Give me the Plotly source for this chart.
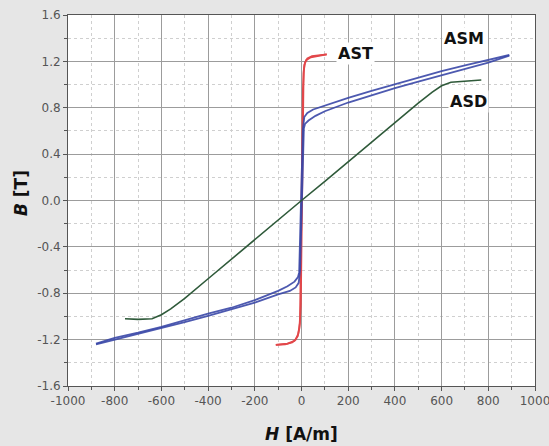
import plotly.graph_objects as go

# ---- data ----
# AST (red) loop
ast_asc_H = [-110, -70, -40, -25, -14, -7, -3, 0, 3, 6, 9, 12, 20, 40, 75, 108]
ast_asc_B = [-1.245, -1.24, -1.225, -1.20, -1.15, -1.06, -0.90, -0.3, 0.4, 0.9, 1.10, 1.17, 1.21, 1.235, 1.25, 1.26]
ast_desc_H = [108, 75, 45, 25, 15, 10, 6, 3, 0, -3, -6, -9, -16, -30, -60, -110]
ast_desc_B = [1.26, 1.255, 1.245, 1.225, 1.19, 1.12, 0.95, 0.5, -0.2, -0.7, -1.0, -1.10, -1.17, -1.21, -1.235, -1.245]

# ASM (blue) loop
asm_desc_H = [890, 800, 700, 600, 500, 400, 300, 200, 100, 50, 25, 12, 6, 2, -2, -6, -10, -15,
              -30, -60, -100, -200, -300, -400, -500, -600, -700, -800, -880]
asm_desc_B = [1.255, 1.215, 1.165, 1.115, 1.06, 1.005, 0.945, 0.885, 0.815, 0.785, 0.755, 0.72, 0.62, 0.3,
              -0.2, -0.5, -0.62, -0.66, -0.70, -0.74, -0.78, -0.86, -0.925, -0.975, -1.035, -1.09, -1.14, -1.185, -1.235]
asm_asc_H = [-880, -800, -700, -600, -500, -400, -300, -200, -100, -50, -25, -12, -6, -2, 2, 6, 10, 15,
             30, 60, 100, 200, 300, 400, 500, 600, 700, 800, 890]
asm_asc_B = [-1.24, -1.2, -1.155, -1.105, -1.05, -0.995, -0.94, -0.88, -0.81, -0.78, -0.75, -0.71, -0.6, -0.3,
             0.2, 0.5, 0.62, 0.66, 0.69, 0.73, 0.77, 0.845, 0.91, 0.97, 1.025, 1.08, 1.135, 1.19, 1.25]

# ASD (green) curve
asd_H = [-756, -700, -640, -600, -560, -500, -400, -300, -200, -100, 0, 100, 200, 300, 400, 500, 560, 600, 640, 700, 770]
asd_B = [-1.02, -1.025, -1.02, -0.985, -0.935, -0.845, -0.675, -0.505, -0.335, -0.165, 0.0, 0.165, 0.335,
         0.50, 0.67, 0.84, 0.935, 0.99, 1.02, 1.03, 1.04]

labels = ["AST", "ASM", "ASD"]
label_H = [233, 696, 717]
label_B = [1.267, 1.395, 0.852]

x_ticks = [-1000, -800, -600, -400, -200, 0, 200, 400, 600, 800, 1000]
y_ticks = [-1.6, -1.2, -0.8, -0.4, 0.0, 0.4, 0.8, 1.2, 1.6]

RED = "#e2474a"
BLUE = "#3a48a8"
GREEN = "#2f5a3a"

fig = go.Figure()
for h, b in [(ast_asc_H, ast_asc_B), (ast_desc_H, ast_desc_B)]:
    fig.add_trace(go.Scatter(x=h, y=b, mode="lines", line=dict(color=RED, width=1.8), showlegend=False))
for h, b in [(asm_desc_H, asm_desc_B), (asm_asc_H, asm_asc_B)]:
    fig.add_trace(go.Scatter(x=h, y=b, mode="lines", line=dict(color=BLUE, width=1.8),
                             opacity=0.9, showlegend=False))
fig.add_trace(go.Scatter(x=asd_H, y=asd_B, mode="lines", line=dict(color=GREEN, width=1.6), showlegend=False))

for t, h, b in zip(labels, label_H, label_B):
    fig.add_annotation(x=h, y=b, xref="x", yref="y", text=t, showarrow=False,
                       font=dict(family="DejaVu Sans", size=16, color="#111111", weight="bold"),
                       bgcolor="white")

fig.add_annotation(xref="paper", yref="paper", x=0.501, y=-0.129, text="<i>H</i> [A/m]", showarrow=False,
                   font=dict(family="DejaVu Sans", size=17, color="#111111", weight="bold"),
                   xanchor="center", yanchor="middle")
fig.add_annotation(xref="paper", yref="paper", x=-0.1006, y=0.52, text="<i>B</i> [T]", showarrow=False,
                   textangle=-90,
                   font=dict(family="DejaVu Sans", size=17, color="#111111", weight="bold"),
                   xanchor="center", yanchor="middle")

axis_common = dict(
    showline=True, linecolor="#555555", linewidth=1, mirror=True,
    ticks="outside", ticklen=4, tickcolor="#555555",
    showgrid=True, gridcolor="#9c9c9c", gridwidth=1,
    zeroline=False, automargin=False,
    ticklabeloverflow="allow",
    tickfont=dict(family="DejaVu Sans", size=12, color="#555555"),
)

fig.update_xaxes(range=[-1000, 1000], tickvals=x_ticks, ticktext=[str(v) for v in x_ticks],
                 minor=dict(dtick=100, tick0=0, showgrid=True, gridcolor="#cfcfcf", griddash="dot",
                            ticks="outside", ticklen=3, tickcolor="#555555"),
                 **axis_common)
fig.update_yaxes(range=[-1.6, 1.6], tickvals=y_ticks, ticktext=[f"{v:.1f}" for v in y_ticks],
                 minor=dict(dtick=0.2, tick0=0, showgrid=True, gridcolor="#cfcfcf", griddash="dot",
                            ticks="outside", ticklen=3, tickcolor="#555555"),
                 **axis_common)

fig.update_layout(
    width=549, height=446,
    margin=dict(l=68, r=14, t=15, b=60),
    paper_bgcolor="#e6e6e6",
    plot_bgcolor="white",
    showlegend=False,
)

fig.write_html("out.html",
               config={"displayModeBar": False},
               post_script="document.body.style.margin='0';document.body.style.overflow='hidden';"
                           "document.body.style.background='#e6e6e6';")
